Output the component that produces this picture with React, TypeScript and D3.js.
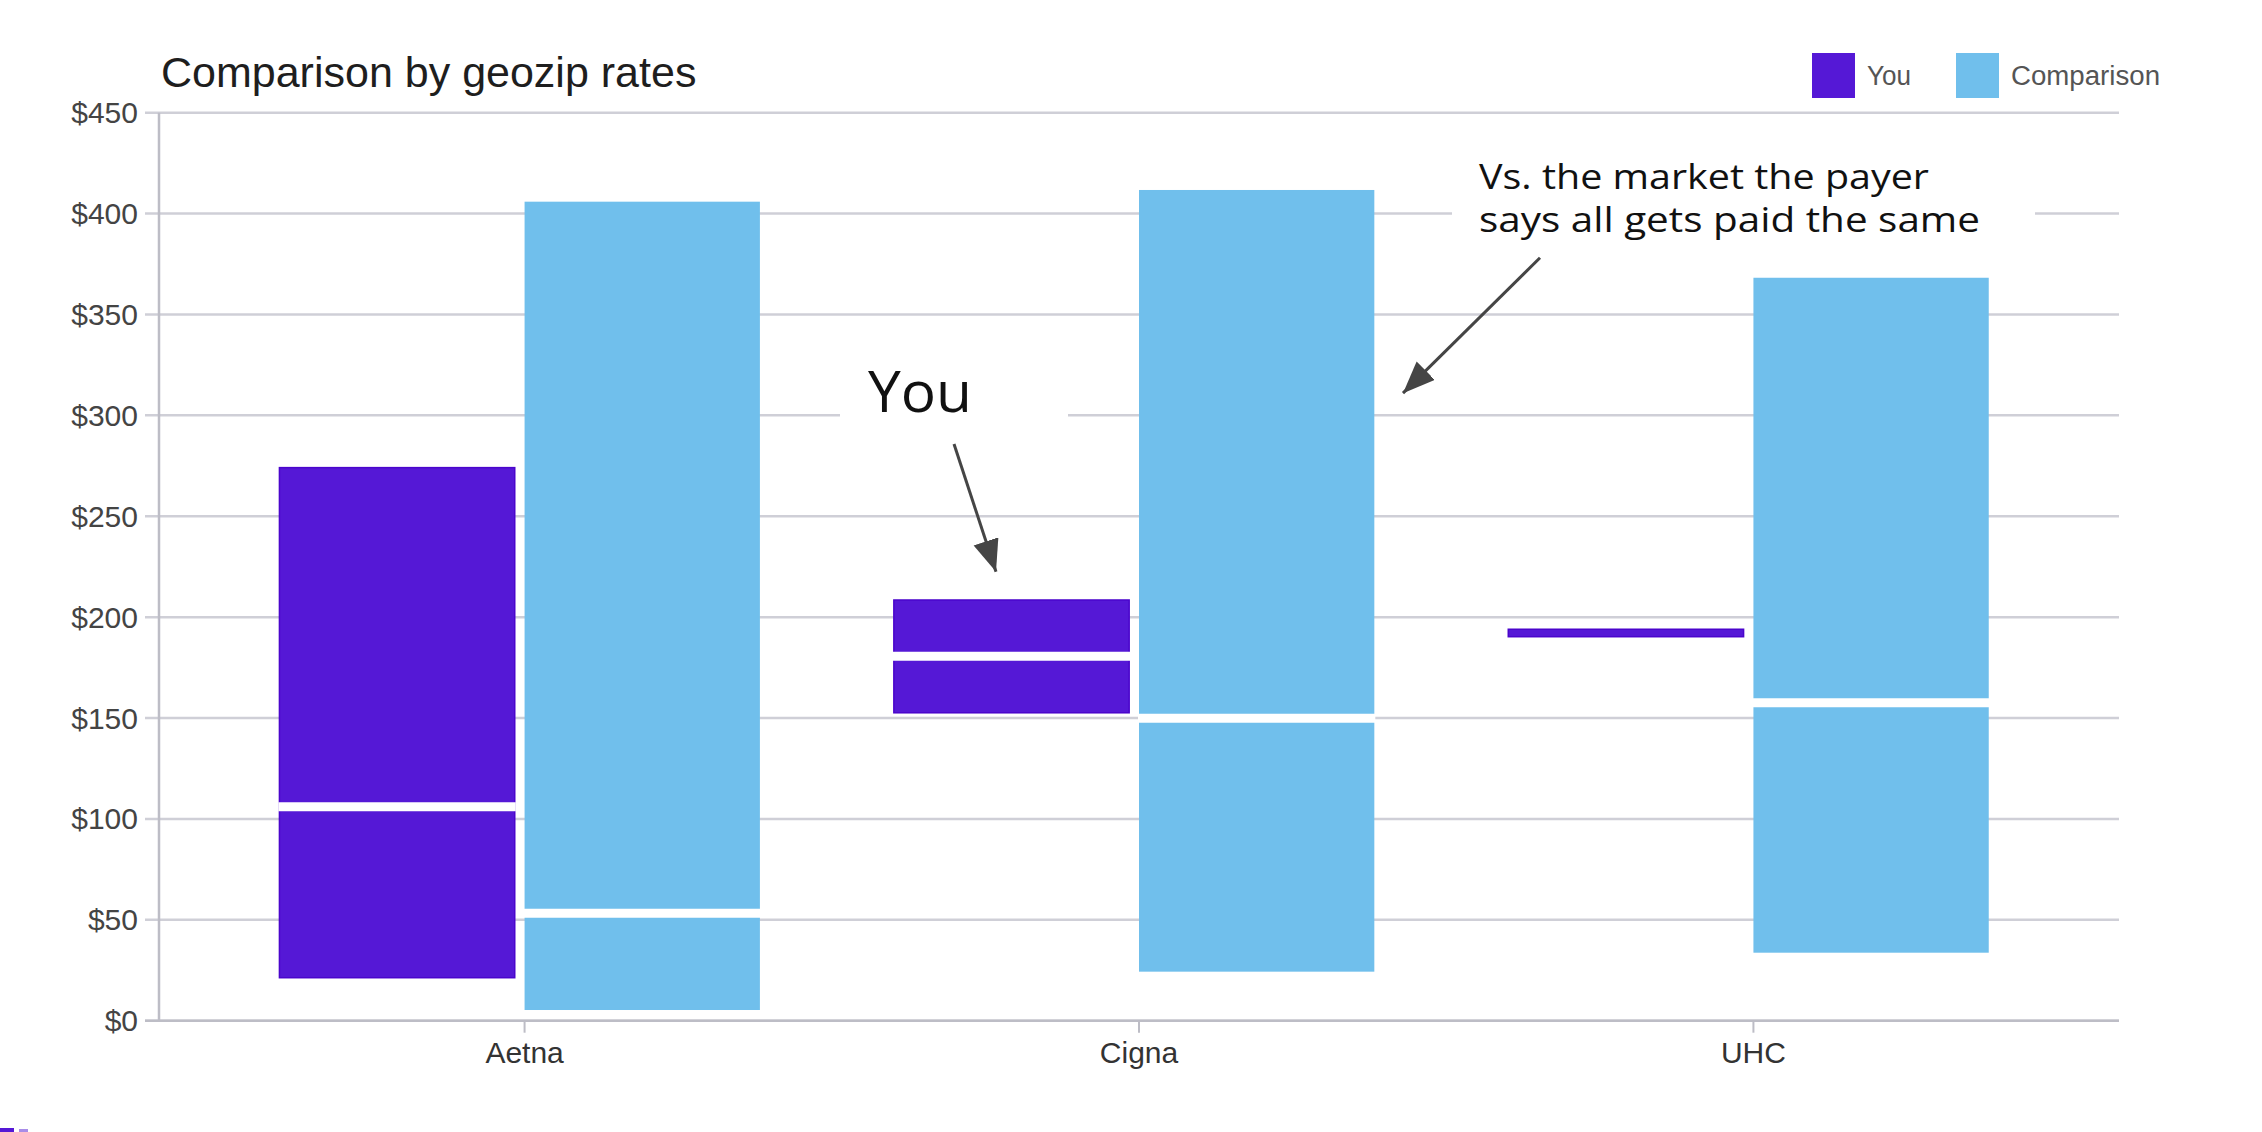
// @ts-nocheck
import React from 'react';
import * as d3 from 'd3';

const categories = ['Aetna', 'Cigna', 'UHC'];
const seriesNames = ['You', 'Comparison'];
const seriesColors = ['#5518d6', '#70bfec'];

// floating range bars: low / median / high
const youLow = [21.3, 152.6, 190.3];
const youMid = [106, 180.6, null];
const youHigh = [274.1, 208.5, 194.0];

const compLow = [5.3, 24.3, 33.7];
const compMid = [53.3, 149.9, 157.6];
const compHigh = [405.9, 411.7, 368.2];

const yTickValues = [0, 50, 100, 150, 200, 250, 300, 350, 400, 450];

const W = 2262;
const H = 1132;
const plot = { left: 159, right: 2119, top: 112.7, bottom: 1020.7 };

export default function App() {
    const x = d3.scaleBand()
        .domain(categories)
        .range([plot.left, plot.right])
        .paddingInner(0)
        .paddingOuter(0.095);

    const y = d3.scaleLinear()
        .domain([0, 450])
        .range([plot.bottom, plot.top]);

    const fmt = (v) => '$' + d3.format('d')(v);
    const barW = x.step() * 0.383;
    const gap = x.step() * 0.016;
    const center = (c) => x(c) + x.bandwidth() / 2;

    const series = [
        { name: 'You', low: youLow, mid: youMid, high: youHigh, color: seriesColors[0], stroke: '#4a05cc',
          left: (c) => center(c) - gap - barW },
        { name: 'Comparison', low: compLow, mid: compMid, high: compHigh, color: seriesColors[1], stroke: 'none',
          left: (c) => center(c) }
    ];

    const cx = center('Cigna');
    // callouts, anchored to Cigna's tick and the y scale
    const youArrow = { x1: cx - 185, v1: 285.8, x2: cx - 143, v2: 222.5 };
    const mktArrow = { x1: cx + 401, v1: 378.1, x2: cx + 264, v2: 311 };

    return (
        <svg width={W} height={H} style={{ position: 'absolute', left: 0, top: 0, background: '#fff' }}>
            <defs>
                <marker id="ah" markerUnits="userSpaceOnUse" markerWidth="34" markerHeight="28"
                    refX="32" refY="13" orient="auto">
                    <path d="M0,0 L32,13 L0,26 Z" fill="#454545" />
                </marker>
            </defs>

            <text x={161} y={87} fontFamily="Liberation Sans, Arial, sans-serif" fontSize={43} fill="#1e1e1e">
                Comparison by geozip rates
            </text>

            {/* legend */}
            {seriesNames.map((s, i) => (
                <g key={s}>
                    <rect x={[1812, 1956][i]} y={53} width={43} height={45} fill={seriesColors[i]} />
                    <text x={[1867, 2011][i]} y={85} fontFamily="Liberation Sans, Arial, sans-serif"
                        fontSize={27} fill="#555" textLength={[44, 149][i]}
                        lengthAdjust="spacingAndGlyphs">{s}</text>
                </g>
            ))}

            {/* grid */}
            {yTickValues.map((t) => (
                <g key={t}>
                    <line x1={plot.left - 14} x2={plot.right} y1={y(t)} y2={y(t)}
                        stroke="#cfcfd7" strokeWidth={2.5} />
                    <text x={138} y={y(t)} dy="0.35em" textAnchor="end"
                        fontFamily="Liberation Sans, Arial, sans-serif" fontSize={30} fill="#444">{fmt(t)}</text>
                </g>
            ))}
            <line x1={plot.left} x2={plot.left} y1={plot.top} y2={plot.bottom}
                stroke="#bdbdc6" strokeWidth={2.5} />
            <line x1={plot.left - 14} x2={plot.right} y1={plot.bottom} y2={plot.bottom}
                stroke="#bdbdc6" strokeWidth={2.5} />

            {categories.map((c) => (
                <g key={c}>
                    <line x1={center(c)} x2={center(c)} y1={plot.bottom} y2={plot.bottom + 12}
                        stroke="#bdbdc6" strokeWidth={2} />
                    <text x={center(c)} y={1063} textAnchor="middle"
                        fontFamily="Liberation Sans, Arial, sans-serif" fontSize={30} fill="#333">{c}</text>
                </g>
            ))}

            {/* bars */}
            {series.map((s) => categories.map((c, i) => (
                <g key={s.name + c}>
                    <rect x={s.left(c)} y={y(s.high[i])} width={barW}
                        height={y(s.low[i]) - y(s.high[i])}
                        fill={s.color} stroke={s.stroke} strokeWidth={1.5} />
                    {s.mid[i] != null && (
                        <line x1={s.left(c) - 1} x2={s.left(c) + barW + 1}
                            y1={y(s.mid[i])} y2={y(s.mid[i])} stroke="#fff" strokeWidth={9} />
                    )}
                </g>
            )))}

            {/* annotations */}
            <rect x={cx - 299} y={350} width={228} height={76} fill="#fff" />
            <text x={cx - 271} y={411.7} fontFamily="Open Sans, sans-serif" fontSize={56} fill="#111"
                textLength={104} lengthAdjust="spacingAndGlyphs">You</text>
            <line x1={youArrow.x1} y1={y(youArrow.v1)} x2={youArrow.x2} y2={y(youArrow.v2)}
                stroke="#454545" strokeWidth={3} markerEnd="url(#ah)" />

            <rect x={cx + 313} y={150} width={583} height={95} fill="#fff" />
            <text fontFamily="Open Sans, sans-serif" fontSize={35} fill="#111" lengthAdjust="spacingAndGlyphs">
                <tspan x={cx + 340} y={189.3} textLength={450} lengthAdjust="spacingAndGlyphs">Vs. the market the payer</tspan>
                <tspan x={cx + 340} y={231.7} textLength={501} lengthAdjust="spacingAndGlyphs">says all gets paid the same</tspan>
            </text>
            <line x1={mktArrow.x1} y1={y(mktArrow.v1)} x2={mktArrow.x2} y2={y(mktArrow.v2)}
                stroke="#454545" strokeWidth={3} markerEnd="url(#ah)" />

            <rect x={0} y={1128} width={14} height={4} fill="#5518d6" />
            <rect x={19} y={1129} width={9} height={3} fill="#a88ce8" />
        </svg>
    );
}
